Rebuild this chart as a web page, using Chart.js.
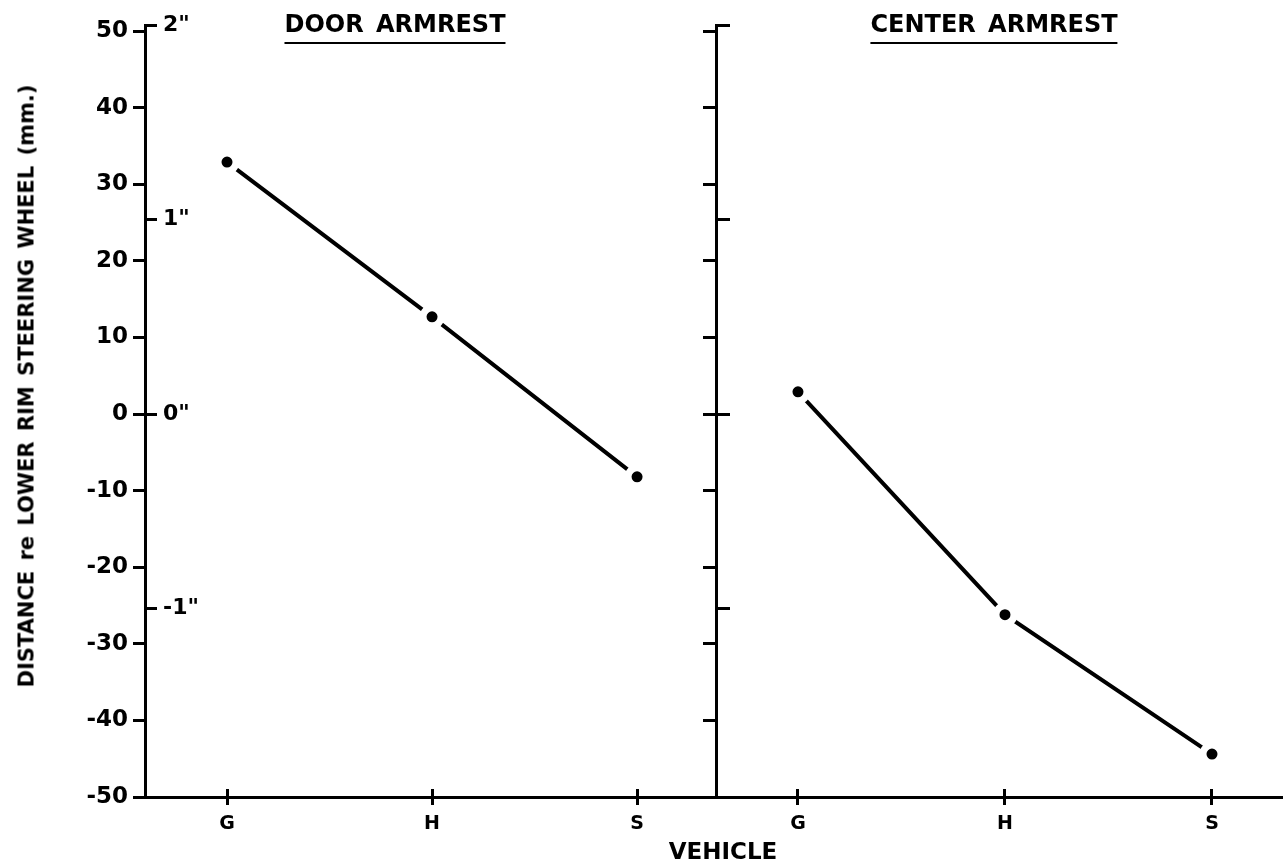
<!DOCTYPE html>
<html>
<head>
<meta charset="utf-8">
<title>Distance re lower rim steering wheel</title>
<script src="https://cdn.jsdelivr.net/npm/chart.js"></script>
<style>
  body { margin: 0; background: #fff; }
  #wrap { position: relative; width: 1283px; height: 868px; font-family: "DejaVu Sans", sans-serif; font-weight: bold; color: #000; }
  canvas { position: absolute; top: 0; }
  .label { position: absolute; white-space: nowrap; }
  .panel-title { top: 12px; font-size: 24px; line-height: 24px; word-spacing: 4px; padding-bottom: 6px; border-bottom: 2px solid #000; transform: translateX(-50%); }
</style>
</head>
<body>
<div id="wrap">
  <canvas id="doorChart" width="717" height="868" style="left:0;width:717px;height:868px"></canvas>
  <canvas id="centerChart" width="593" height="868" style="left:690px;width:593px;height:868px"></canvas>
  <div class="label panel-title" style="left:395px">DOOR ARMREST</div>
  <div class="label panel-title" style="left:994px">CENTER ARMREST</div>
  <div class="label" style="left:723px;top:840px;font-size:23px;line-height:23px;transform:translateX(-50%)">VEHICLE</div>
  <div class="label" style="left:27px;top:386px;font-size:21px;line-height:21px;word-spacing:3px;transform:translate(-50%,-50%) rotate(-90deg)">DISTANCE re LOWER RIM STEERING WHEEL (mm.)</div>
</div>
<script>
// data
const vehicles = ["G", "H", "S"];
const vehiclePos = [1, 2, 3];
const doorArmrest = [32.9, 12.7, -8.2];
const centerArmrest = [2.9, -26.2, -44.4];
const mmTicks = [-50, -40, -30, -20, -10, 0, 10, 20, 30, 40, 50];
const inchTicks = [-1, 0, 1, 2];
const MM_PER_INCH = 25.4;

const black = "#000";

// force tick values (instead of auto generated ones)
function setTicks(values) {
  return (scale) => {
    scale.ticks = values.map((v) => ({ value: v }));
  };
}

// fixed box size, no extra padding asked from the layout
function fixSize(w, h) {
  return (s) => {
    if (w !== null) s.width = w;
    if (h !== null) s.height = h;
    s.paddingLeft = s.paddingRight = s.paddingTop = s.paddingBottom = 0;
  };
}

function buildChart(id, values, isLeft) {
  const xRange = isLeft ? [0.6, 3.385] : [0.604, 3.343];
  const tickGrid = (len) => ({
    drawOnChartArea: false,
    tickLength: len,
    lineWidth: 3,
    color: black,
  });

  return new Chart(document.getElementById(id), {
    type: "line",
    data: {
      datasets: [
        {
          data: vehiclePos.map((x, i) => ({ x, y: values[i] })),
          xAxisID: "x",
          yAxisID: "y",
          borderColor: black,
          borderWidth: 4,
          tension: 0,
          fill: false,
          pointRadius: 9,
          pointBorderWidth: 7,
          pointBackgroundColor: black,
          pointBorderColor: "#fff",
        },
      ],
    },
    options: {
      responsive: false,
      animation: false,
      devicePixelRatio: 1,
      events: [],
      layout: {
        autoPadding: false,
        padding: { top: 25, right: isLeft ? 1 : 0, bottom: 0, left: 0 },
      },
      plugins: { legend: { display: false }, tooltip: { enabled: false } },
      scales: {
        x: {
          type: "linear",
          position: "bottom",
          weight: 1,
          bounds: "data",
          min: xRange[0],
          max: xRange[1],
          afterBuildTicks: setTicks(vehiclePos),
          ticks: {
            callback: (v) => vehicles[vehiclePos.indexOf(v)],
            font: { size: 19, weight: "bold" },
            color: black,
            padding: 8,
            autoSkip: false,
            maxRotation: 0,
          },
          grid: tickGrid(8),
          border: { color: black, width: 3 },
          afterFit: fixSize(null, 71),
        },
        // upper half of the crossing vehicle ticks
        xUp: {
          type: "linear",
          position: "bottom",
          weight: 0,
          bounds: "data",
          min: xRange[0],
          max: xRange[1],
          afterBuildTicks: setTicks(vehiclePos),
          ticks: { display: false },
          grid: tickGrid(-8),
          border: { display: false },
          afterFit: fixSize(null, 0),
        },
        y: {
          type: "linear",
          position: "left",
          weight: 1,
          bounds: "data",
          min: -50,
          max: 2 * MM_PER_INCH,
          afterBuildTicks: setTicks(mmTicks),
          ticks: {
            display: isLeft,
            font: { size: 23, weight: "bold" },
            color: black,
            padding: 5,
          },
          grid: tickGrid(isLeft ? 12 : 13),
          border: { color: black, width: 3 },
          afterFit: fixSize(isLeft ? 145 : 26, null),
        },
        // inch scale, ticks pointing into the plot
        yInch: {
          type: "linear",
          position: "left",
          weight: 0,
          bounds: "data",
          min: -50 / MM_PER_INCH,
          max: 2,
          afterBuildTicks: setTicks(inchTicks),
          ticks: {
            display: isLeft,
            mirror: true,
            padding: 18,
            callback: (v) => v + '"',
            font: { size: 22, weight: "bold" },
            color: black,
          },
          grid: tickGrid(isLeft ? -12 : -14),
          border: { display: false },
          afterFit: fixSize(0, null),
        },
      },
    },
  });
}

Chart.defaults.font.family = "'DejaVu Sans', sans-serif";
Chart.defaults.color = black;

buildChart("doorChart", doorArmrest, true);
buildChart("centerChart", centerArmrest, false);
</script>
</body>
</html>
